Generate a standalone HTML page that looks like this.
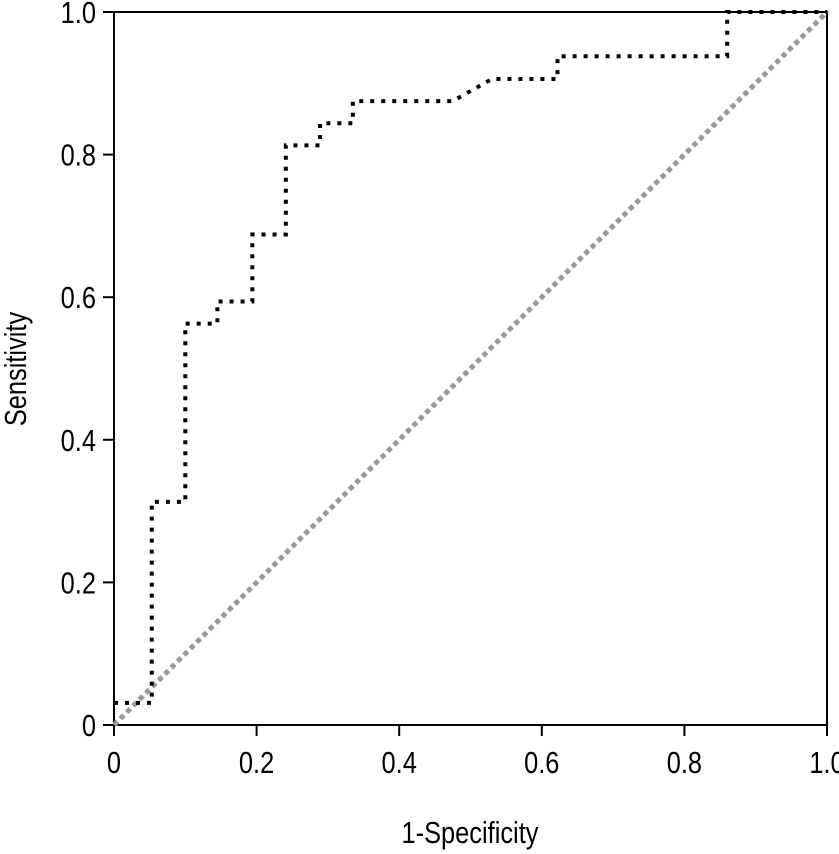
<!DOCTYPE html>
<html><head><meta charset="utf-8"><style>
html,body{margin:0;padding:0;background:#fff;}
svg{display:block;}
text{font-family:"Liberation Sans",sans-serif;fill:#000;}
</style></head><body>
<svg id="chart" width="839" height="854">
<g id="axes"></g>
<g id="marks"></g>
</svg>
<script>
const tickValues = [0, 0.2, 0.4, 0.6, 0.8, 1.0];
const tickLabels = ["0", "0.2", "0.4", "0.6", "0.8", "1.0"];
const rocFpr = [0, 0.053, 0.053, 0.1, 0.1, 0.145, 0.145, 0.194, 0.194, 0.241, 0.241, 0.289, 0.289, 0.335, 0.335, 0.475, 0.53, 0.622, 0.622, 0.86, 0.86, 1.0];
const rocTpr = [0.031, 0.031, 0.313, 0.313, 0.563, 0.563, 0.594, 0.594, 0.688, 0.688, 0.813, 0.813, 0.844, 0.844, 0.875, 0.875, 0.906, 0.906, 0.938, 0.938, 1.0, 1.0];
const refFpr = [0, 1];
const refTpr = [0, 1];

const NS = "http://www.w3.org/2000/svg";
const X0 = 114, X1 = 827, Y0 = 725, Y1 = 12;
const sx = v => X0 + v * (X1 - X0);
const sy = v => Y0 - v * (Y0 - Y1);
const axes = document.getElementById('axes');
const marks = document.getElementById('marks');
function mk(tag, attrs, parent) {
  const el = document.createElementNS(NS, tag);
  for (const k in attrs) el.setAttribute(k, attrs[k]);
  parent.appendChild(el);
  return el;
}
const frame = mk('rect', {x: X0, y: Y1, width: X1 - X0, height: Y0 - Y1, fill: 'none', stroke: '#000', 'stroke-width': 2}, axes);


tickValues.forEach((v, i) => {
  const yt = mk('line', {x1: X0 - 11, x2: X0, y1: sy(v), y2: sy(v), stroke: '#000', 'stroke-width': 2}, axes);
  
  
  const yl = mk('text', {x: 96, y: sy(v) + 11, 'text-anchor': 'end', 'font-size': 31, transform: 'scale(0.82,1)', 'transform-origin': '96 ' + sy(v)}, axes);
  yl.textContent = tickLabels[i];
  
  
  const xt = mk('line', {x1: sx(v), x2: sx(v), y1: Y0, y2: Y0 + 11, stroke: '#000', 'stroke-width': 2}, axes);
  
  
  const xl = mk('text', {x: sx(v), y: 773, 'text-anchor': 'middle', 'font-size': 31, transform: 'scale(0.82,1)', 'transform-origin': sx(v) + ' 773'}, axes);
  xl.textContent = tickLabels[i];
  
  
});
const xt = mk('text', {x: 470, y: 843, 'text-anchor': 'middle', 'font-size': 31, transform: 'scale(0.82,1)', 'transform-origin': '470 843'}, axes);
xt.textContent = '1-Specificity';


const yt = mk('text', {x: 0, y: 0, 'text-anchor': 'middle', 'font-size': 31, transform: 'translate(26,369) rotate(-90) scale(0.82,1)'}, axes);
yt.textContent = 'Sensitivity';



const ref = mk('polyline', {points: refFpr.map((v, i) => sx(v) + ',' + sy(refTpr[i])).join(' '), fill: 'none', stroke: '#999', 'stroke-width': 5, 'stroke-dasharray': '5,4'}, marks);


const roc = mk('polyline', {points: rocFpr.map((v, i) => sx(v) + ',' + sy(rocTpr[i])).join(' '), fill: 'none', stroke: '#000', 'stroke-width': 4, 'stroke-dasharray': '4,7'}, marks);


</script>
</body></html>
